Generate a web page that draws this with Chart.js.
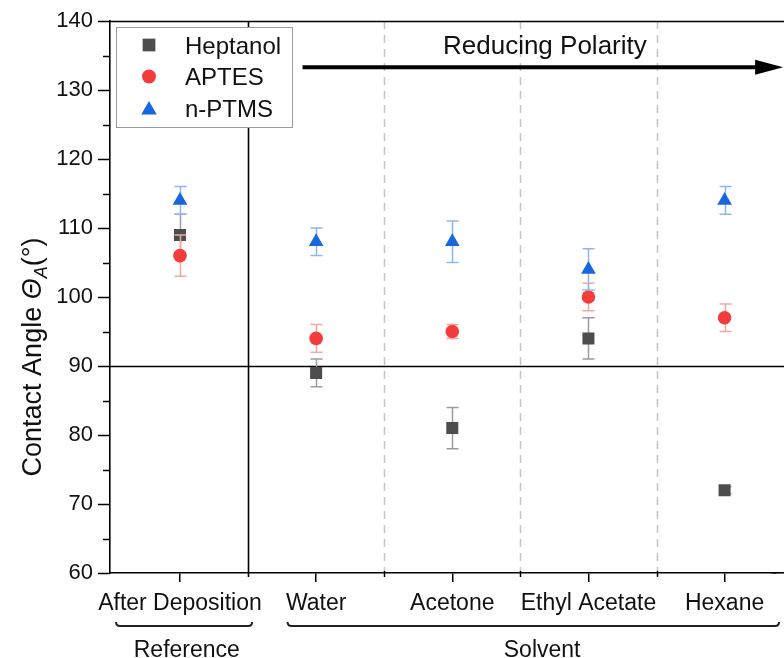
<!DOCTYPE html>
<html><head><meta charset="utf-8">
<script src="https://cdn.jsdelivr.net/npm/chart.js@4.4.1/dist/chart.umd.min.js"></script>
<style>html,body{margin:0;padding:0;background:#fff;overflow:hidden}canvas{display:block}</style>
</head><body>
<canvas id="c" width="784" height="658"></canvas>
<script>
// ---- data ----
const categories = ['After Deposition', 'Water', 'Acetone', 'Ethyl Acetate', 'Hexane'];
const categoryPositions = [1, 2, 3, 4, 5];
const heptanol = [109, 89, 81, 94, 72];
const heptanolErr = [3, 2, 3, 3, 0.5];
const aptes = [106, 94, 95, 100, 97];
const aptesErr = [3, 2, 1, 2, 2];
const nptms = [114, 108, 108, 104, 114];
const nptmsErr = [2, 2, 3, 3, 2];
const yTicks = [60, 70, 80, 90, 100, 110, 120, 130, 140];
const seriesNames = ['Heptanol', 'APTES', 'n-PTMS'];
const groupLabels = ['Reference', 'Solvent'];
const annotationText = 'Reducing Polarity';

const FONT = '"Liberation Sans", Arial, Helvetica, sans-serif';
const COLORS = { hep: '#4d4d4d', apt: '#f53c3c', npt: '#1a66dd' };
const ERRCOLORS = { hep: '#9c9c9c', apt: '#f6a5a5', npt: '#8cb6f0' };

const mk = vals => vals.map((v, i) => ({ x: categoryPositions[i], y: v }));

function drawMarker(ctx, style, x, y, r, color) {
  ctx.save();
  ctx.fillStyle = color;
  ctx.beginPath();
  if (style === 'rect') {
    const s = r * Math.SQRT1_2;
    ctx.rect(x - s, y - s, 2 * s, 2 * s);
  } else if (style === 'circle') {
    ctx.arc(x, y, r, 0, Math.PI * 2);
  } else {
    ctx.moveTo(x, y - r);
    ctx.lineTo(x + r * Math.sin(2 * Math.PI / 3), y + r * 0.5);
    ctx.lineTo(x - r * Math.sin(2 * Math.PI / 3), y + r * 0.5);
    ctx.closePath();
  }
  ctx.fill();
  ctx.restore();
}

const decor = {
  id: 'decor',
  beforeDatasetsDraw(chart) {
    const { ctx, chartArea: a, scales: { x, y } } = chart;
    const W = chart.width;
    ctx.save();
    // dashed separators
    ctx.strokeStyle = '#c4c4c4';
    ctx.lineWidth = 1.5;
    ctx.setLineDash([8, 6]);
    [2.5, 3.5, 4.5].forEach(v => {
      const px = Math.round(x.getPixelForValue(v)) + 0.5;
      ctx.beginPath(); ctx.moveTo(px, a.top); ctx.lineTo(px, a.bottom); ctx.stroke();
    });
    ctx.setLineDash([]);
    ctx.strokeStyle = '#000';
    [2.5, 3.5, 4.5].forEach(v => {
      const px = Math.round(x.getPixelForValue(v)) + 0.5;
      ctx.beginPath(); ctx.moveTo(px, a.bottom - 2); ctx.lineTo(px, a.bottom + 4); ctx.stroke();
    });
    // solid separator
    ctx.lineWidth = 1.6;
    const sx = Math.round(x.getPixelForValue(1.5)) + 0.5;
    ctx.beginPath(); ctx.moveTo(sx, a.top); ctx.lineTo(sx, a.bottom + 4); ctx.stroke();
    // 90 degree line (plot continues past the right edge of the picture)
    const hy = Math.round(y.getPixelForValue(90)) + 0.5;
    ctx.beginPath(); ctx.moveTo(a.left, hy); ctx.lineTo(W, hy); ctx.stroke();
    // top border
    const ty = Math.round(a.top) + 0.5;
    ctx.beginPath(); ctx.moveTo(a.left, ty); ctx.lineTo(W, ty); ctx.stroke();
    // bottom axis continuation, aligned like the library's own border
    const by = Math.round(a.bottom - 0.8) + 0.8;
    ctx.beginPath(); ctx.moveTo(a.right - 4, by); ctx.lineTo(W, by); ctx.stroke();
    // y ticks (major and minor)
    ctx.lineWidth = 1.5;
    for (let v = 60; v <= 140; v += 5) {
      const py = Math.round(y.getPixelForValue(v)) + 0.5;
      const len = v % 10 === 0 ? 12 : 7;
      ctx.beginPath(); ctx.moveTo(a.left - len, py); ctx.lineTo(a.left, py); ctx.stroke();
    }
    ctx.restore();
  },
  beforeDatasetDraw(chart, args) {
    const { ctx, scales: { y } } = chart;
    const ds = chart.data.datasets[args.index];
    ctx.save();
    ctx.strokeStyle = ds.errColor;
    ctx.lineWidth = 1.5;
    args.meta.data.forEach((pt, i) => {
      const v = ds.data[i].y, e = ds.errors[i];
      const t = y.getPixelForValue(v + e), b = y.getPixelForValue(v - e);
      const px = Math.round(pt.x) + 0.5;
      ctx.beginPath();
      ctx.moveTo(px, t); ctx.lineTo(px, b);
      ctx.moveTo(px - 6, t); ctx.lineTo(px + 6, t);
      ctx.moveTo(px - 6, b); ctx.lineTo(px + 6, b);
      ctx.stroke();
    });
    ctx.restore();
  },
  afterDraw(chart) {
    const { ctx, scales: { x, y } } = chart;
    ctx.save();
    // arrow
    const ay = y.getPixelForValue(133.3);
    const x0 = x.getPixelForValue(1.9), x1 = x.getPixelForValue(5.43);
    ctx.strokeStyle = '#000'; ctx.fillStyle = '#000';
    ctx.lineWidth = 4;
    ctx.beginPath(); ctx.moveTo(x0, ay); ctx.lineTo(x1 - 20, ay); ctx.stroke();
    ctx.beginPath();
    ctx.moveTo(x1, ay); ctx.lineTo(x1 - 28, ay - 7.5); ctx.lineTo(x1 - 28, ay + 7.5); ctx.closePath(); ctx.fill();
    // annotation text
    ctx.font = '26px ' + FONT;
    ctx.textAlign = 'center'; ctx.textBaseline = 'alphabetic';
    ctx.fillStyle = '#111';
    ctx.fillText(annotationText, x.getPixelForValue(3.68), 54);

    // legend
    const lx = 116, ly = 27, lw = 176, lh = 100;
    ctx.fillStyle = '#fff';
    ctx.fillRect(lx, ly, lw, lh);
    ctx.strokeStyle = '#9a9a9a'; ctx.lineWidth = 1;
    ctx.strokeRect(lx + 0.5, ly + 0.5, lw, lh);
    const rows = [
      { style: 'rect', r: 9, c: COLORS.hep },
      { style: 'circle', r: 7, c: COLORS.apt },
      { style: 'triangle', r: 9, c: COLORS.npt }
    ];
    ctx.font = '24px ' + FONT;
    ctx.textAlign = 'left';
    rows.forEach((row, i) => {
      const cy = 45 + i * 31.5;
      drawMarker(ctx, row.style, 149, cy + (row.style === 'triangle' ? 2 : 0), row.r, row.c);
      ctx.fillStyle = '#111';
      ctx.fillText(seriesNames[i], 185, cy + 8.5);
    });

    // y axis title
    ctx.save();
    ctx.translate(41, 357);
    ctx.rotate(-Math.PI / 2);
    ctx.fillStyle = '#111';
    const f1 = '27px ' + FONT, fi = 'italic 27px ' + FONT, fs = 'italic 18px ' + FONT;
    const parts = [
      { t: 'Contact Angle ', f: f1, dy: 0 },
      { t: 'Θ', f: fi, dy: 0 },
      { t: 'A', f: fs, dy: 6 },
      { t: '(°)', f: f1, dy: 0 }
    ];
    let total = 0;
    parts.forEach(p => { ctx.font = p.f; p.w = ctx.measureText(p.t).width; total += p.w; });
    let cx = -total / 2;
    ctx.textAlign = 'left'; ctx.textBaseline = 'alphabetic';
    parts.forEach(p => { ctx.font = p.f; ctx.fillText(p.t, cx, p.dy); cx += p.w; });
    ctx.restore();

    // group brackets and labels
    const spans = [[0.53, 1.53], [1.79, 5.4]];
    const labelAt = [1.05, 3.66];
    ctx.strokeStyle = '#222'; ctx.lineWidth = 2;
    ctx.font = '23px ' + FONT; ctx.textAlign = 'center'; ctx.fillStyle = '#111';
    spans.forEach((s, i) => {
      const p0 = x.getPixelForValue(s[0]), p1 = x.getPixelForValue(s[1]);
      const by = 626;
      ctx.beginPath();
      ctx.moveTo(p0, by - 4);
      ctx.quadraticCurveTo(p0, by, p0 + 4, by);
      ctx.lineTo(p1 - 4, by);
      ctx.quadraticCurveTo(p1, by, p1, by - 4);
      ctx.stroke();
      ctx.fillText(groupLabels[i], x.getPixelForValue(labelAt[i]), 657);
    });
    ctx.restore();
  }
};

new Chart(document.getElementById('c'), {
  type: 'scatter',
  data: {
    datasets: [
      { label: seriesNames[0], data: mk(heptanol), errors: heptanolErr, errColor: ERRCOLORS.hep,
        pointStyle: 'rect', pointRadius: 8.5, backgroundColor: COLORS.hep, borderColor: COLORS.hep, borderWidth: 0, order: 3 },
      { label: seriesNames[1], data: mk(aptes), errors: aptesErr, errColor: ERRCOLORS.apt,
        pointStyle: 'circle', pointRadius: 6.8, backgroundColor: COLORS.apt, borderColor: COLORS.apt, borderWidth: 0, order: 2 },
      { label: seriesNames[2], data: mk(nptms), errors: nptmsErr, errColor: ERRCOLORS.npt,
        pointStyle: 'triangle', pointRadius: 8.5, backgroundColor: COLORS.npt, borderColor: COLORS.npt, borderWidth: 0, order: 1 }
    ]
  },
  options: {
    responsive: false,
    animation: false,
    devicePixelRatio: 1,
    layout: { padding: { top: 21, left: 0, right: 0, bottom: 0 } },
    plugins: { legend: { display: false }, tooltip: { enabled: false } },
    scales: {
      x: {
        type: 'linear', min: 0.486, max: 5.374,
        afterBuildTicks: s => { s.ticks = categoryPositions.map(v => ({ value: v })); },
        afterFit: s => { s.height = 85; s.paddingLeft = 0; s.paddingRight = 0; s.paddingTop = 0; s.paddingBottom = 0; },
        ticks: { autoSkip: false, maxRotation: 0, minRotation: 0,
          callback: (v, i) => categories[i], font: { size: 23, family: FONT }, color: '#111', padding: 8 },
        grid: { drawOnChartArea: false, drawTicks: true, tickLength: 9, color: '#000', lineWidth: 1.5 },
        border: { display: true, color: '#000', width: 1.6 }
      },
      y: {
        min: 60, max: 140,
        afterBuildTicks: s => { s.ticks = yTicks.map(v => ({ value: v })); },
        afterFit: s => { s.width = 110; s.paddingLeft = 0; s.paddingRight = 0; s.paddingTop = 0; s.paddingBottom = 0; },
        ticks: { font: { size: 22, family: FONT }, color: '#111', padding: 17 },
        grid: { drawOnChartArea: false, drawTicks: false },
        border: { display: true, color: '#000', width: 1.6 }
      }
    }
  },
  plugins: [decor]
});
</script>
</body></html>
